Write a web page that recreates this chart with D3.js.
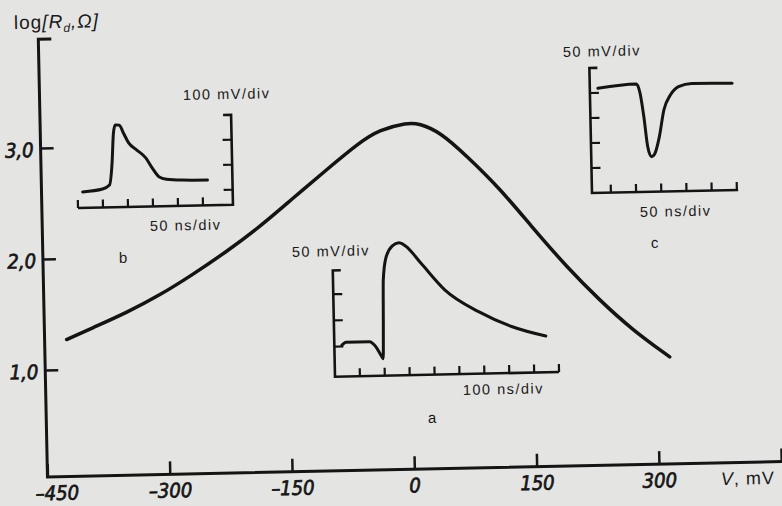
<!DOCTYPE html>
<html>
<head>
<meta charset="utf-8">
<script src="https://cdnjs.cloudflare.com/ajax/libs/d3/7.8.5/d3.min.js"></script>
<style>
  body { margin: 0; background: #e4e4e2; }
  svg { display: block; }
  .tick text {
    font-family: "DejaVu Sans Condensed", "DejaVu Sans", sans-serif;
    font-stretch: condensed;
    font-style: italic;
    font-size: 20px;
    fill: #161616;
    stroke: #161616;
    stroke-width: 0.7px;
  }
  .tick line { stroke: #161616; stroke-width: 2.5px; }
  .lbl { font-family: "Liberation Sans", Arial, sans-serif; font-size: 14.5px; letter-spacing: 1.5px; fill: #1a1a1a; }
</style>
</head>
<body>
<div id="chart"></div>
<script>
// main curve, V in mV, log of R_d in ohm
var voltage = [-423, -391, -349, -308, -267, -225, -183, -142, -100, -59, -34, 0,
               15, 40, 72, 112, 151, 192, 232, 271, 316];
var logR = [1.27, 1.37, 1.50, 1.65, 1.83, 2.03, 2.25, 2.50, 2.75, 2.99, 3.10, 3.16,
            3.15, 3.07, 2.85, 2.55, 2.19, 1.83, 1.52, 1.25, 1.00];

var xTicks = [-450, -300, -150, 0, 150, 300, 450];
var xTickLabels = ["\u2013450", "\u2013300", "\u2013150", "0", "150", "300", ""];
var yTicks = [1, 2, 3];
var yTickLabels = ["1,0", "2,0", "3,0"];

// oscillogram insets, time and voltage in divisions
var aTime = [0.3, 0.47, 1.41, 1.67, 1.88, 1.95, 1.98, 2.02, 2.14, 2.41, 2.68, 2.94, 3.55, 4.49, 5.82, 7.16, 8.5];
var aVolt = [1.25, 1.37, 1.37, 1.16, 0.79, 0.68, 1.83, 3.83, 4.7, 5.18, 5.3, 5.17, 4.46, 3.37, 2.48, 1.85, 1.45];
var aTimeTicks = [1, 2, 3, 4, 5, 6, 7, 8, 9];
var aVoltTicks = [1.2, 2.25, 3.3];

var bTime = [0.2, 1.0, 1.28, 1.4, 1.48, 1.56, 1.72, 1.88, 2.08, 2.4, 2.76, 3.0, 3.28, 3.56, 4.2, 5.2];
var bVolt = [0.64, 0.74, 0.89, 1.77, 2.97, 3.29, 3.28, 2.96, 2.56, 2.27, 1.94, 1.54, 1.17, 1.08, 1.03, 1.01];
var bTimeTicks = [0, 1, 2, 3, 4, 5];
var bVoltTicks = [0.6, 1.6, 2.6];

var cTime = [0.32, 1.85, 1.99, 2.12, 2.25, 2.39, 2.52, 2.72, 2.92, 3.19, 3.52, 4.05, 5.65];
var cVolt = [4.18, 4.32, 3.95, 3.01, 1.80, 1.40, 1.51, 2.20, 3.26, 3.85, 4.18, 4.30, 4.27];
var cTimeTicks = [0.75, 1.75, 2.75, 3.75, 4.75, 5.75];
var cVoltTicks = [1, 2, 3, 4];

var W = 782, H = 506;
var ink = "#141414";
var origin = [45, 478], tilt = 1.2;   // the scan is slightly rotated
var sn = Math.sin(tilt * Math.PI / 180), cs = Math.cos(tilt * Math.PI / 180);

function toFrame(sx, sy) {
    var dx = sx - origin[0], dy = sy - origin[1];
    return [cs * dx - sn * dy, sn * dx + cs * dy];
}

var svg = d3.select("#chart").append("svg")
    .attr("width", W)
    .attr("height", H);

var g = svg.append("g")
    .attr("transform", "translate(" + origin[0] + "," + origin[1] + ") rotate(" + (-tilt) + ")");

var x = d3.scaleLinear().domain([-450, 450]).range([2.5, 736.4]);
var y = d3.scaleLinear().domain([0, 4]).range([3, -441]);
var axisY = -1, yTop = 3.98;

// frame
g.append("path")
    .attr("d", d3.line()([[x(-450) + 13, y(yTop)], [x(-450), y(yTop)], [x(-450), axisY], [x(450) + 12, axisY]]))
    .style("fill", "none")
    .style("stroke", ink)
    .style("stroke-width", "3px");

var xAxis = d3.axisBottom(x)
    .tickValues(xTicks)
    .tickSize(-13)
    .tickSizeOuter(0)
    .tickPadding(9)
    .tickFormat(function(d, i) { return xTickLabels[i]; });

var gx = g.append("g")
    .attr("class", "x axis")
    .attr("transform", "translate(0," + axisY + ")")
    .call(xAxis);
gx.select(".domain").remove();
gx.selectAll(".tick text").attr("dx", function(d) { return d === -450 ? 9 : 0; });

var yAxis = d3.axisLeft(y)
    .tickValues(yTicks)
    .tickSize(-13)
    .tickSizeOuter(0)
    .tickPadding(7)
    .tickFormat(function(d, i) { return yTickLabels[i]; });

var gy = g.append("g")
    .attr("class", "y axis")
    .attr("transform", "translate(" + x(-450) + ",0)")
    .call(yAxis);
gy.select(".domain").remove();
gy.selectAll(".tick text").attr("dy", "0.42em");

// main curve
var curve = d3.line()
    .x(function(d) { return x(d[0]); })
    .y(function(d) { return y(d[1]); })
    .curve(d3.curveBasis);

g.append("path")
    .attr("d", curve(d3.zip(voltage, logR)))
    .style("fill", "none")
    .style("stroke", ink)
    .style("stroke-width", "3.5px")
    .style("stroke-linecap", "round");

// insets
function drawInset(cfg) {
    var o = toFrame(cfg.sx, cfg.sy);
    var ix = d3.scaleLinear().domain([0, cfg.tMax]).range([0, cfg.tMax * cfg.px]);
    var iy = d3.scaleLinear().domain([0, cfg.vMax]).range([0, -cfg.vMax * 25]);
    var gi = g.append("g").attr("transform", "translate(" + o[0] + "," + o[1] + ")");
    var left = cfg.side === "left";
    var ax = left ? ix(0) : ix(cfg.tMax), dir = left ? 1 : -1;

    var frame = left
        ? [[ax + 8, iy(cfg.vMax)], [ax, iy(cfg.vMax)], [ax, iy(0)], [ix(cfg.tMax), iy(0)]]
        : [[ix(0), iy(0)], [ax, iy(0)], [ax, iy(cfg.vMax)], [ax - 8, iy(cfg.vMax)]];
    gi.append("path")
        .attr("d", d3.line()(frame))
        .style("fill", "none")
        .style("stroke", ink)
        .style("stroke-width", "2.6px");

    gi.selectAll(".tt").data(cfg.tTicks).enter().append("line")
        .attr("x1", function(d) { return ix(d); })
        .attr("x2", function(d) { return ix(d); })
        .attr("y1", iy(0))
        .attr("y2", iy(0) - 8)
        .style("stroke", ink)
        .style("stroke-width", "2.2px");

    gi.selectAll(".vt").data(cfg.vTicks).enter().append("line")
        .attr("x1", ax)
        .attr("x2", ax + dir * 9)
        .attr("y1", function(d) { return iy(d); })
        .attr("y2", function(d) { return iy(d); })
        .style("stroke", ink)
        .style("stroke-width", "2.2px");

    gi.append("path")
        .attr("d", d3.line()
            .x(function(d) { return ix(d[0]); })
            .y(function(d) { return iy(d[1]); })
            .curve(d3.curveMonotoneX)(d3.zip(cfg.time, cfg.volt)))
        .style("fill", "none")
        .style("stroke", ink)
        .style("stroke-width", "3px")
        .style("stroke-linecap", "round")
        .style("stroke-linejoin", "round");
}

drawInset({sx: 335, sy: 376.7, px: 24.9, tMax: 9, vMax: 4.25, side: "left",
           time: aTime, volt: aVolt, tTicks: aTimeTicks, vTicks: aVoltTicks});
drawInset({sx: 78, sy: 208, px: 25, tMax: 6.2, vMax: 3.6, side: "right",
           time: bTime, volt: bVolt, tTicks: bTimeTicks, vTicks: bVoltTicks});
drawInset({sx: 592, sy: 193, px: 25.2, tMax: 5.8, vMax: 5, side: "left",
           time: cTime, volt: cVolt, tTicks: cTimeTicks, vTicks: cVoltTicks});

// labels
function label(txt, sx, sy, size) {
    var p = toFrame(sx, sy);
    return g.append("text")
        .attr("class", "lbl")
        .attr("x", p[0])
        .attr("y", p[1])
        .style("font-size", (size || 14.5) + "px")
        .text(txt);
}

label("100 mV/div", 183, 100);
label("50 ns/div", 150, 231);
label("b", 119, 263, 15);
label("50 mV/div", 563, 57);
label("50 ns/div", 640, 217);
label("c", 651, 248, 15);
label("50 mV/div", 292, 257);
label("100 ns/div", 463, 395);
label("a", 428, 423, 15);

var vl = label("", 721, 485, 18).style("letter-spacing", "1px");
vl.append("tspan").style("font-style", "italic").text("V");
vl.append("tspan").text(", mV");

var yl = label("", 14, 29, 19).style("letter-spacing", "1px");
yl.append("tspan").text("log");
yl.append("tspan").style("font-style", "italic").text("[R");
yl.append("tspan").style("font-style", "italic").style("font-size", "12px").attr("dy", 4).text("d");
yl.append("tspan").style("font-style", "italic").attr("dy", -4).text(",\u03a9]");
</script>
</body>
</html>
